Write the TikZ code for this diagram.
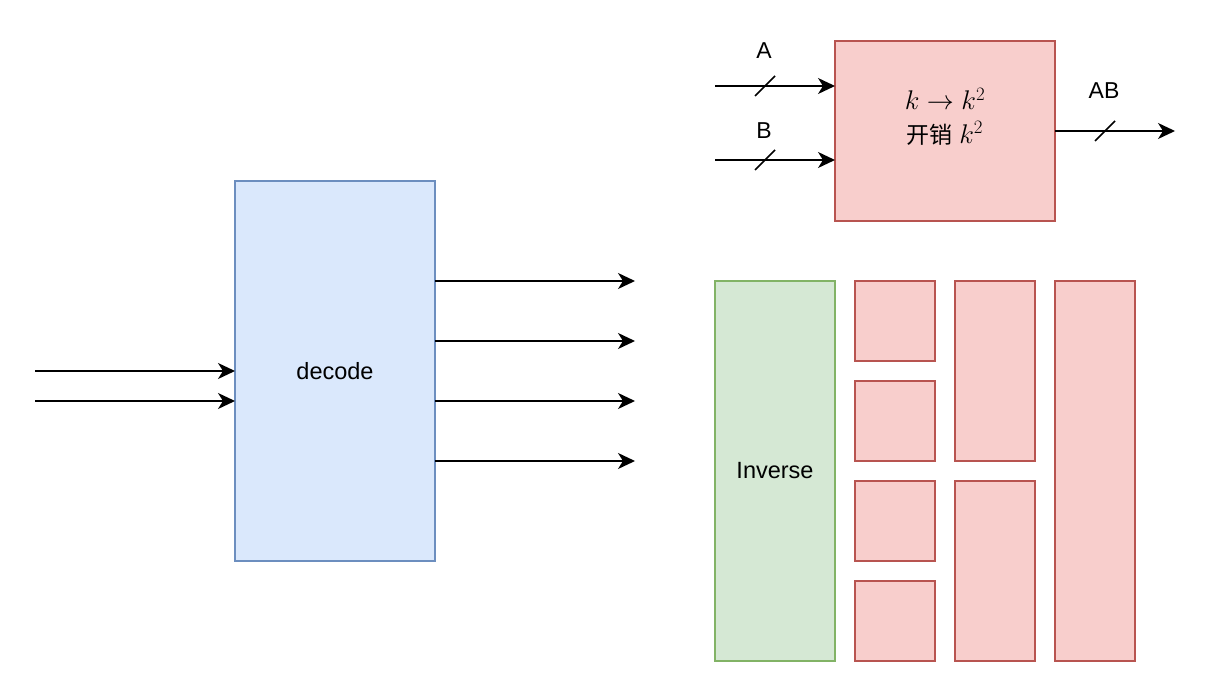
\RequirePackage{fix-cm}
\documentclass[tikz,border=0pt]{standalone}
\usepackage{fontspec}
\setmainfont{Liberation Sans}
\newfontfamily\cjk{Noto Sans CJK SC}
\usetikzlibrary{arrows.meta}
\definecolor{redfill}{HTML}{F8CECC}
\definecolor{redline}{HTML}{B85450}
\definecolor{bluefill}{HTML}{DAE8FC}
\definecolor{blueline}{HTML}{6C8EBF}
\definecolor{greenfill}{HTML}{D5E8D4}
\definecolor{greenline}{HTML}{82B366}
\tikzset{
  blk/.style={draw, line width=1.5pt, inner sep=0pt, outer sep=0pt, anchor=north west,
    font=\fontsize{23.5}{33}\selectfont},
  redbox/.style={blk, fill=redfill, draw=redline},
  bluebox/.style={blk, fill=bluefill, draw=blueline},
  greenbox/.style={blk, fill=greenfill, draw=greenline},
  arr/.style={line width=1.5pt, -{Stealth[length=17pt,width=16pt,inset=5pt]}},
  slashmark/.style={line width=1.5pt},
  lbl/.style={font=\fontsize{23}{26}\selectfont, inner sep=0pt}
}
\begin{document}
\begin{tikzpicture}[x=1pt,y=-1pt]
\useasboundingbox (0,0) rectangle (1212,682);
% decode block
\node[bluebox, minimum width=200pt, minimum height=380pt] (dec) at (235,181) {decode};
\coordinate (in1) at (35,371);
\coordinate (in2) at (35,401);
\draw[arr] (in1) -- (dec.west |- in1);
\draw[arr] (in2) -- (dec.west |- in2);
\coordinate (o1) at (635,281);
\coordinate (o2) at (635,341);
\coordinate (o3) at (635,401);
\coordinate (o4) at (635,461);
\foreach \o in {o1,o2,o3,o4} \draw[arr] (dec.east |- \o) -- (\o);
% multiplier block
\node[redbox, minimum width=220pt, minimum height=180pt] (mul) at (835,41) {};
\node[lbl, anchor=base] (mt1) at (945,110) {\fontsize{27}{30}\selectfont $k\to k^2$};
\node[lbl, anchor=base] (mt2) at (945,143) {{\cjk 开销} {\fontsize{27}{30}\selectfont$k^2$}};
\coordinate (a0) at (715,86);
\coordinate (b0) at (715,160);
\coordinate (ab) at (1175,131);
\draw[arr] (a0) -- (mul.west |- a0);
\draw[arr] (b0) -- (mul.west |- b0);
\draw[arr] (mul.east |- ab) -- (ab);
\coordinate (sa) at (765,86);
\coordinate (sb) at (765,160);
\coordinate (sab) at (1105,131);
\foreach \s in {sa,sb,sab} \draw[slashmark] (\s) +(-10,10) -- +(10,-10);
\node[lbl] (la) at (764,51) {A};
\node[lbl] (lb) at (764,131) {B};
\node[lbl] (lab) at (1104,91) {AB};
% inverse and grid
\node[greenbox, minimum width=120pt, minimum height=380pt] (inv) at (715,281) {Inverse};
\node[redbox, minimum width=80pt, minimum height=80pt] (s1) at (855,281) {};
\node[redbox, minimum width=80pt, minimum height=80pt] (s2) at (855,381) {};
\node[redbox, minimum width=80pt, minimum height=80pt] (s3) at (855,481) {};
\node[redbox, minimum width=80pt, minimum height=80pt] (s4) at (855,581) {};
\node[redbox, minimum width=80pt, minimum height=180pt] (m1) at (955,281) {};
\node[redbox, minimum width=80pt, minimum height=180pt] (m2) at (955,481) {};
\node[redbox, minimum width=80pt, minimum height=380pt] (r1) at (1055,281) {};
\end{tikzpicture}
\end{document}
